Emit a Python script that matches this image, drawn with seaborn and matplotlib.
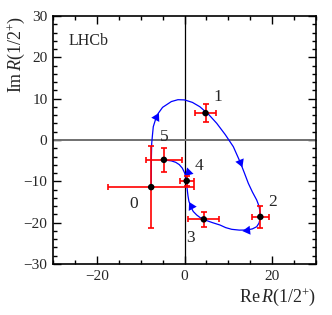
import numpy as np
import pandas as pd
import matplotlib
matplotlib.use("Agg")
import matplotlib.pyplot as plt
import seaborn as sns
from matplotlib.ticker import MultipleLocator

# ---- data ----
labels = ["0", "1", "2", "3", "4", "5"]
re_vals = [-7.6, 4.8, 17.3, 4.4, 0.5, -4.7]
im_vals = [-11.4, 6.5, -18.6, -19.2, -9.9, -4.8]
re_err = [9.8, 2.3, 2.0, 3.5, 1.6, 4.1]
im_err = [9.9, 2.1, 2.7, 1.8, 1.2, 2.9]
label_x = [-11.7, 7.7, 20.0, 1.3, 3.4, -4.7]
label_y = [-15.5, 10.5, -14.9, -23.6, -6.3, 0.8]

curve_x = [-7.6, -7.55, -7.48, -7.3, -7.12, -6.6, -5.98, -5.0, -3.0, -1.5,
           0.0, 1.8, 3.5, 5.5, 7.35, 9.3, 11.14, 12.66, 13.6, 14.56, 15.5,
           16.47, 17.0, 17.25, 17.3, 17.0, 16.47, 15.5, 14.19, 12.5, 10.77,
           9.4, 8.1, 6.4, 4.68, 3.6, 2.79, 2.0, 1.42, 1.0, 0.8, 0.6, 0.5,
           0.3, 0.0, -0.5, -1.2, -2.0, -3.0, -4.6]
curve_y = [-11.4, -4.0, -0.8, 1.3, 3.22, 5.0, 6.46, 7.9, 9.3, 9.75,
           9.7, 9.1, 8.05, 6.2, 4.04, 1.3, -1.62, -5.25, -7.8, -10.48, -12.6,
           -14.52, -16.0, -17.5, -18.8, -20.1, -20.98, -21.5, -21.78, -21.8,
           -21.61, -21.2, -20.57, -20.0, -19.36, -18.8, -18.15, -17.3, -16.14,
           -14.8, -13.55, -11.8, -10.1, -8.9, -7.9, -6.8, -5.95, -5.4, -5.05,
           -4.84]

arrow_x = [-6.6, 12.66, 14.19, 1.45, 0.9]
arrow_y = [5.6, -5.25, -21.78, -15.9, -7.7]
arrow_dir = [62, -68, 186, 118, -15]  # direction in degrees

# ---- style ----
sns.set_style("white")
plt.rcParams["font.family"] = ["Liberation Serif", "DejaVu Serif"]
plt.rcParams["mathtext.fontset"] = "custom"
plt.rcParams["mathtext.rm"] = "Liberation Serif"
plt.rcParams["mathtext.it"] = "Liberation Serif:italic"

fig = plt.figure(figsize=(3.32, 3.15), dpi=100)
ax = fig.add_axes([53/332, 1-264/315, (316-53)/332, (264-16)/315])

ax.axvline(0, color="black", lw=0.9, zorder=1)
ax.axhline(0, color="#707070", lw=1.4, zorder=1)

curve = pd.DataFrame({"x": curve_x, "y": curve_y})
sns.lineplot(data=curve, x="x", y="y", sort=False, estimator=None,
             color="#0000ff", lw=0.9, ax=ax, zorder=2)

for ax_, ay_, d in zip(arrow_x, arrow_y, arrow_dir):
    ax.plot([ax_], [ay_], marker=(3, 0, d - 90), color="#0000ff",
            markersize=7.5, markeredgewidth=0, zorder=3)

ax.errorbar(re_vals, im_vals, xerr=re_err, yerr=im_err, fmt="none",
            ecolor="red", elinewidth=1.2, capsize=2.2, capthick=1.2, zorder=4)
pts = pd.DataFrame({"re": re_vals, "im": im_vals})
sns.scatterplot(data=pts, x="re", y="im", color="black", s=22,
                edgecolor="none", ax=ax, zorder=5)

for lx, ly, t in zip(label_x, label_y, labels):
    ax.text(lx, ly, t, fontsize=12.5, ha="center", va="center")

ax.text(0.06, 0.885, "LHCb", transform=ax.transAxes, fontsize=11.5,
        ha="left", va="baseline")

ax.set_xlim(-30, 30)
ax.set_ylim(-30, 30)
ax.xaxis.set_major_locator(MultipleLocator(20))
ax.xaxis.set_minor_locator(MultipleLocator(5))
ax.yaxis.set_major_locator(MultipleLocator(10))
ax.yaxis.set_minor_locator(MultipleLocator(2))
ax.tick_params(which="both", direction="in", top=True, right=True,
               bottom=True, left=True, color="black", width=1.0)
ax.tick_params(which="major", length=6, labelsize=11, pad=4)
ax.tick_params(which="minor", length=3)
ax.xaxis.set_major_formatter(matplotlib.ticker.FuncFormatter(
    lambda v, p: f"{int(v)}".replace("-", "\u2212")))
ax.yaxis.set_major_formatter(matplotlib.ticker.FuncFormatter(
    lambda v, p: f"{int(v)}".replace("-", "\u2212")))
for s in ax.spines.values():
    s.set_color("black")
    s.set_linewidth(1.2)
ax.set_xlabel("")
ax.set_ylabel("")

fig.text(316/332, 1-308/315, r"Re$\,R$(1/2$^{+}$)", fontsize=13,
         ha="right", va="bottom")
fig.text(16/332, 1-16/315, r"Im$\,R$(1/2$^{+}$)", fontsize=13,
         ha="center", va="top", rotation=90)

fig.savefig("out.png", dpi=100)
